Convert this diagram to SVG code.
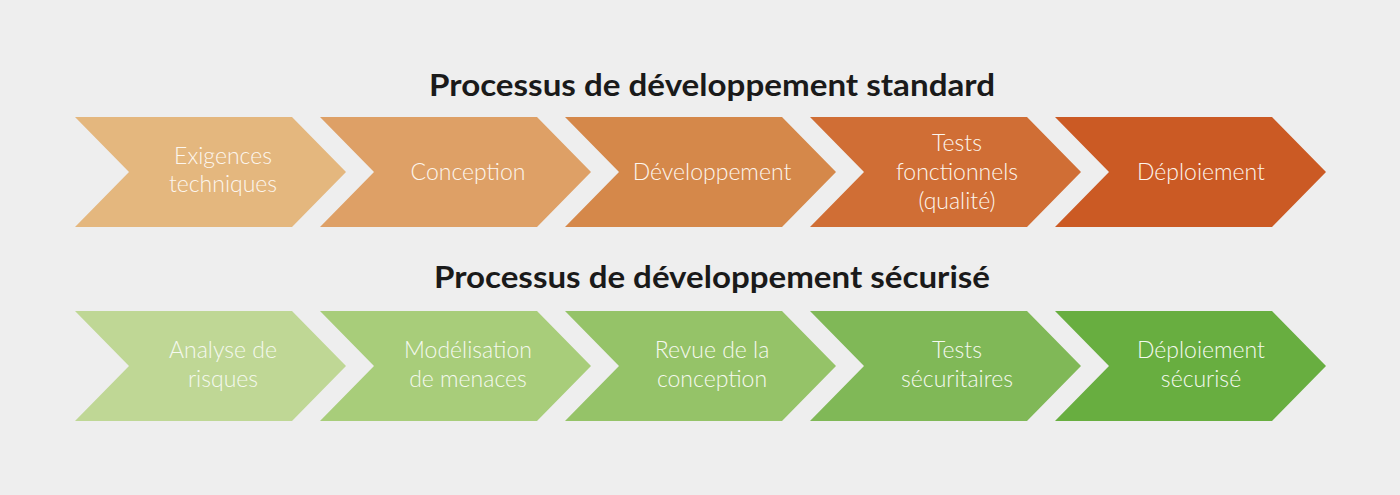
<svg xmlns="http://www.w3.org/2000/svg" width="1400" height="495" viewBox="0 0 1400 495">
<defs>
<polygon id="chev" points="0,0 217,0 271,55 217,110 0,110 54,55"/>
</defs>
<style>
.title{font-family:Lato,"Liberation Sans",sans-serif;font-weight:700;font-size:30px;fill:#1a1a1a;text-anchor:middle}
.lbl{font-family:Lato,"Open Sans","Liberation Sans",sans-serif;font-weight:300;font-size:23px;fill:#fdf6ee;text-anchor:middle}
.g .lbl{fill:#f5f9ef}
</style>
<rect width="1400" height="495" fill="#eeeeee"/>
<text class="title" x="712" y="96" textLength="566" lengthAdjust="spacingAndGlyphs">Processus de développement standard</text>
<text class="title" x="712" y="288" textLength="556" lengthAdjust="spacingAndGlyphs">Processus de développement sécurisé</text>
<g id="connectors"/>
<g id="s1"><use href="#chev" x="75" y="117" fill="#e4b77e"/><text class="lbl" x="223" y="164">Exigences</text><text class="lbl" x="223" y="192">techniques</text></g>
<g id="s2"><use href="#chev" x="320" y="117" fill="#dea066"/><text class="lbl" x="468" y="180">Conception</text></g>
<g id="s3"><use href="#chev" x="565" y="117" fill="#d5884a"/><text class="lbl" x="712" y="180">Développement</text></g>
<g id="s4"><use href="#chev" x="810" y="117" fill="#d06e35"/><text class="lbl" x="957" y="151">Tests</text><text class="lbl" x="957" y="180">fonctionnels</text><text class="lbl" x="957" y="209">(qualité)</text></g>
<g id="s5"><use href="#chev" x="1055" y="117" fill="#cb5a24"/><text class="lbl" x="1201" y="180">Déploiement</text></g>
<g class="g">
<g id="g1"><use href="#chev" x="75" y="311" fill="#bfd795"/><text class="lbl" x="223" y="358">Analyse de</text><text class="lbl" x="223" y="387">risques</text></g>
<g id="g2"><use href="#chev" x="320" y="311" fill="#a8cd7a"/><text class="lbl" x="468" y="358">Modélisation</text><text class="lbl" x="468" y="387">de menaces</text></g>
<g id="g3"><use href="#chev" x="565" y="311" fill="#95c368"/><text class="lbl" x="712" y="358">Revue de la</text><text class="lbl" x="712" y="387">conception</text></g>
<g id="g4"><use href="#chev" x="810" y="311" fill="#80b857"/><text class="lbl" x="957" y="358">Tests</text><text class="lbl" x="957" y="387">sécuritaires</text></g>
<g id="g5"><use href="#chev" x="1055" y="311" fill="#68ae40"/><text class="lbl" x="1201" y="358">Déploiement</text><text class="lbl" x="1201" y="387">sécurisé</text></g>
</g>
</svg>
